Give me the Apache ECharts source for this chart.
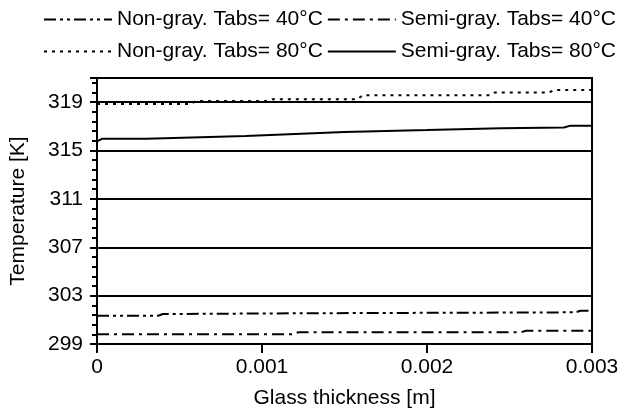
<!DOCTYPE html>
<html>
<head>
<meta charset="utf-8">
<script src="https://cdn.jsdelivr.net/npm/echarts@6/dist/echarts.min.js"></script>
<style>
  html, body { margin: 0; padding: 0; background: #fff; }
  #chart { width: 631px; height: 414px; }
</style>
</head>
<body>
<div id="chart"></div>
<script>
// Glass thickness [m] sample positions and temperatures [K] for each case
const nonGray40X = [0, 0.00037, 0.0004, 0.0014, 0.0029, 0.00293, 0.003];
const nonGray40Y = [301.34, 301.34, 301.48, 301.55, 301.62, 301.75, 301.75];

const semiGray40X = [0, 0.00119, 0.00122, 0.00257, 0.0026, 0.003];
const semiGray40Y = [299.8, 299.8, 299.97, 299.97, 300.1, 300.1];

const nonGray80X = [0, 0.00057, 0.0006, 0.00103, 0.00106, 0.00158, 0.00161, 0.00238, 0.00241, 0.00274, 0.00277, 0.003];
const nonGray80Y = [318.85, 318.85, 319.1, 319.1, 319.25, 319.25, 319.58, 319.58, 319.8, 319.8, 320.0, 320.0];

const semiGray80X = [0, 0.00003, 0.0003, 0.0009, 0.0015, 0.002, 0.00245, 0.00283, 0.00287, 0.003];
const semiGray80Y = [315.75, 315.97, 315.97, 316.21, 316.54, 316.69, 316.85, 316.91, 317.06, 317.06];

const xTicks = [0, 0.001, 0.002, 0.003];
const yTicks = [299, 303, 307, 311, 315, 319];

const names = [
  'Non-gray. Tabs= 40°C',
  'Semi-gray. Tabs= 40°C',
  'Non-gray. Tabs= 80°C',
  'Semi-gray. Tabs= 80°C'
];

const pairs = (xs, ys) => xs.map((x, i) => [x, ys[i]]);
const FONT = '"Liberation Sans", Arial, sans-serif';

function lineSeries(name, data, dash) {
  return {
    name: name,
    type: 'line',
    data: data,
    symbol: 'none',
    silent: true,
    animation: false,
    itemStyle: { color: '#000' },
    lineStyle: { color: '#000', width: 2, type: dash }
  };
}

const legendCommon = {
  left: 38,
  orient: 'horizontal',
  itemWidth: 68,
  itemHeight: 14,
  itemGap: 4,
  itemStyle: { opacity: 0 },
  textStyle: { fontSize: 21, color: '#000', fontFamily: FONT },
  selectedMode: false
};

const chart = echarts.init(document.getElementById('chart'));
chart.setOption({
  backgroundColor: '#fff',
  animation: false,
  textStyle: { fontFamily: FONT },
  legend: [
    Object.assign({}, legendCommon, { top: 4, data: [names[0], names[1]] }),
    Object.assign({}, legendCommon, { top: 36, data: [names[2], names[3]] })
  ],
  grid: {
    left: 94, right: 39, top: 78, bottom: 69,
    show: true, borderColor: '#000', borderWidth: 2, backgroundColor: 'transparent'
  },
  xAxis: {
    type: 'value',
    min: xTicks[0],
    max: xTicks[xTicks.length - 1],
    interval: 0.001,
    name: 'Glass thickness [m]',
    nameLocation: 'middle',
    nameGap: 44,
    nameTextStyle: { fontSize: 21, color: '#000', fontFamily: FONT },
    axisLine: { show: true, lineStyle: { color: '#000', width: 2 } },
    axisTick: { show: true, inside: false, length: 9, lineStyle: { color: '#000', width: 2 } },
    axisLabel: {
      fontSize: 21, color: '#000', margin: 13, fontFamily: FONT,
      formatter: v => {
        const hit = xTicks.find(t => Math.abs(t - v) < 1e-9);
        return hit === undefined ? '' : (hit === 0 ? '0' : hit.toFixed(3));
      }
    },
    splitLine: { show: false }
  },
  yAxis: {
    type: 'value',
    min: 299,
    max: 321,
    interval: 4,
    name: 'Temperature [K]',
    nameLocation: 'middle',
    nameGap: 68,
    nameRotate: 90,
    nameTextStyle: { fontSize: 21, color: '#000', fontFamily: FONT },
    axisLine: { show: true, lineStyle: { color: '#000', width: 2 } },
    axisTick: { show: true, inside: false, length: 7, lineStyle: { color: '#000', width: 2 } },
    minorTick: { show: true, splitNumber: 5, length: 5, lineStyle: { color: '#000', width: 2 } },
    axisLabel: {
      fontSize: 21, color: '#000', margin: 14, fontFamily: FONT,
      formatter: v => (yTicks.indexOf(Math.round(v)) >= 0 && Math.abs(v - Math.round(v)) < 1e-6) ? String(Math.round(v)) : ''
    },
    splitLine: { show: true, lineStyle: { color: '#000', width: 2 } }
  },
  series: [
    lineSeries(names[0], pairs(nonGray40X, nonGray40Y), [12, 4, 3, 4, 3, 4]),
    lineSeries(names[1], pairs(semiGray40X, semiGray40Y), [12, 5, 3, 5]),
    lineSeries(names[2], pairs(nonGray80X, nonGray80Y), [3, 5]),
    lineSeries(names[3], pairs(semiGray80X, semiGray80Y), 'solid')
  ]
});
</script>
</body>
</html>
